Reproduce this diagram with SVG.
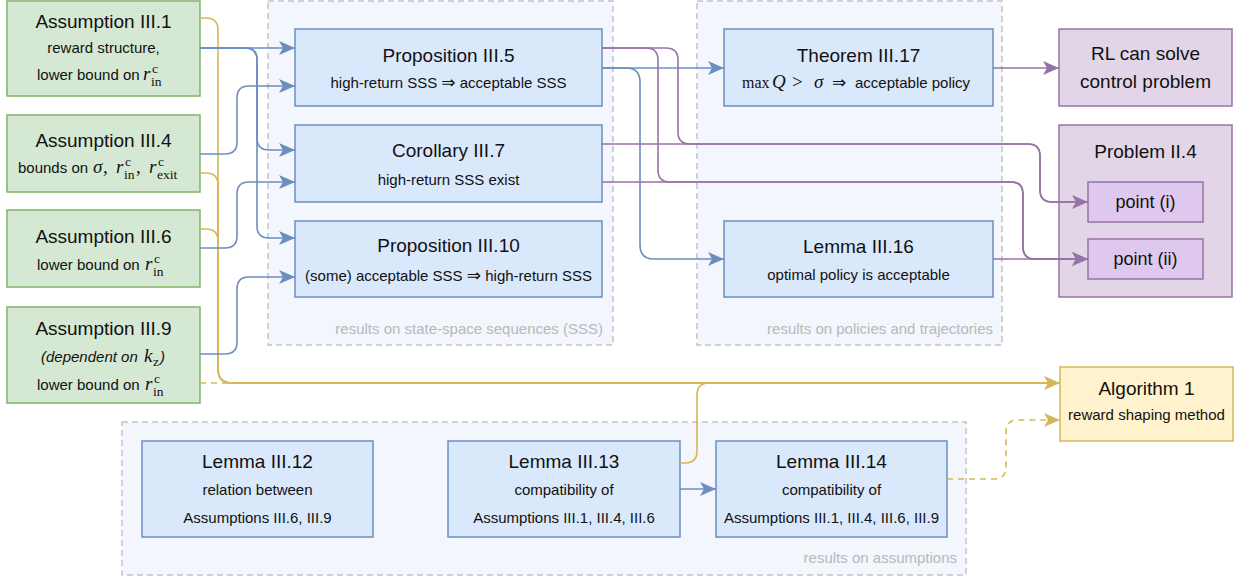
<svg xmlns="http://www.w3.org/2000/svg" width="1237" height="577" viewBox="0 0 1237 577">
<defs>
<style>
.grp{fill:#f3f6fd;stroke:#c4c4c4;stroke-width:1.5;stroke-dasharray:6 4}
.gl{font-family:"Liberation Sans",Arial,sans-serif;font-size:15px;fill:#b8b8b8;text-anchor:end}
.g{fill:#d5e8d4;stroke:#82b366;stroke-width:1.5}
.b{fill:#dae8fc;stroke:#6c8ebf;stroke-width:1.5}
.p{fill:#e1d5e7;stroke:#9673a6;stroke-width:1.5}
.pp{fill:#dfc8ee;stroke:#9673a6;stroke-width:1.5}
.y{fill:#fff2cc;stroke:#d6b656;stroke-width:1.5}
.t{font-family:"Liberation Sans",Arial,"DejaVu Sans",sans-serif;font-size:19px;fill:#111;text-anchor:middle}
.l{font-family:"Liberation Sans",Arial,"DejaVu Sans",sans-serif;font-size:15px;fill:#111}
.s{font-size:15px}
.it{font-style:italic}
.mi{font-family:"Liberation Serif","DejaVu Serif",serif;font-style:italic;font-size:19px;fill:#111}
.mr{font-family:"Liberation Serif","DejaVu Serif",serif;font-style:normal;font-size:19px;fill:#111}
.ss{font-family:"Liberation Serif","DejaVu Serif",serif;font-style:normal;font-size:13.5px;fill:#111}
.ar{font-family:"DejaVu Sans",sans-serif;font-style:normal;font-size:17px;fill:#111}
.cb{fill:none;stroke:#6c8ebf;stroke-width:1.6}
.cp{fill:none;stroke:#9673a6;stroke-width:1.6}
.cy{fill:none;stroke:#d6b656;stroke-width:1.6}
.dash{stroke-dasharray:6 5}
</style>
<marker id="ab" viewBox="0 0 16 14" refX="16" refY="7" markerWidth="16" markerHeight="14" markerUnits="userSpaceOnUse" orient="auto"><path d="M0,0 L16,7 L0,14 L4,7 z" fill="#6c8ebf"/></marker>
<marker id="ap" viewBox="0 0 16 14" refX="16" refY="7" markerWidth="16" markerHeight="14" markerUnits="userSpaceOnUse" orient="auto"><path d="M0,0 L16,7 L0,14 L4,7 z" fill="#9673a6"/></marker>
<marker id="ay" viewBox="0 0 16 14" refX="16" refY="7" markerWidth="16" markerHeight="14" markerUnits="userSpaceOnUse" orient="auto"><path d="M0,0 L16,7 L0,14 L4,7 z" fill="#d6b656"/></marker>
</defs>

<g id="group-sss">
<rect class="grp" x="268" y="1" width="345" height="344"/>
<text class="gl" x="603" y="334">results on state-space sequences (SSS)</text>
</g>
<g id="group-policies">
<rect class="grp" x="697" y="1" width="305" height="344"/>
<text class="gl" x="993" y="334">results on policies and trajectories</text>
</g>
<g id="group-assumptions">
<rect class="grp" x="122" y="422" width="844" height="153"/>
<text class="gl" x="957" y="563">results on assumptions</text>
</g>

<g id="assumption-iii-1">
<rect class="g" x="7" y="1" width="193" height="95"/>
<text class="t" x="103.5" y="28">Assumption III.1</text>
<text class="t s" x="103.5" y="53">reward structure,</text>
<text class="l" x="37" y="80">lower bound on</text>
<text class="mi" x="143" y="80">r</text>
<text class="ss" x="152" y="73">c</text>
<text class="ss" x="151" y="86">in</text>
</g>
<g id="assumption-iii-4">
<rect class="g" x="7" y="115" width="193" height="77"/>
<text class="t" x="103.5" y="147">Assumption III.4</text>
<text class="l" x="18" y="173">bounds on</text>
<text class="mi" x="93" y="173">σ</text>
<text class="mr" x="103" y="173">,</text>
<text class="mi" x="116" y="173">r</text>
<text class="ss" x="125" y="166">c</text>
<text class="ss" x="124" y="179">in</text>
<text class="mr" x="136" y="173">,</text>
<text class="mi" x="149" y="173">r</text>
<text class="ss" x="158" y="166">c</text>
<text class="ss" x="157" y="179">exit</text>
</g>
<g id="assumption-iii-6">
<rect class="g" x="7" y="210" width="193" height="77"/>
<text class="t" x="103.5" y="243">Assumption III.6</text>
<text class="l" x="37" y="270">lower bound on</text>
<text class="mi" x="145" y="270">r</text>
<text class="ss" x="154" y="263">c</text>
<text class="ss" x="153" y="276">in</text>
</g>
<g id="assumption-iii-9">
<rect class="g" x="7" y="307" width="193" height="96"/>
<text class="t" x="103.5" y="335">Assumption III.9</text>
<text class="l it" x="41" y="362">(dependent on</text>
<text class="mi" x="144" y="362">k</text>
<text class="ss" x="153" y="366">z</text>
<text class="l it" x="160" y="362">)</text>
<text class="l" x="37" y="390">lower bound on</text>
<text class="mi" x="145" y="390">r</text>
<text class="ss" x="154" y="383">c</text>
<text class="ss" x="153" y="396">in</text>
</g>

<g id="proposition-iii-5">
<rect class="b" x="295" y="29" width="307" height="77"/>
<text class="t" x="448.5" y="62">Proposition III.5</text>
<text class="t s" x="448.5" y="88">high-return SSS <tspan class="ar">⇒</tspan> acceptable SSS</text>
</g>
<g id="corollary-iii-7">
<rect class="b" x="295" y="125" width="307" height="77"/>
<text class="t" x="448.5" y="157">Corollary III.7</text>
<text class="t s" x="448.5" y="185">high-return SSS exist</text>
</g>
<g id="proposition-iii-10">
<rect class="b" x="295" y="221" width="307" height="76"/>
<text class="t" x="448.5" y="252">Proposition III.10</text>
<text class="t s" x="448.5" y="281">(some) acceptable SSS <tspan class="ar">⇒</tspan> high-return SSS</text>
</g>
<g id="theorem-iii-17">
<rect class="b" x="724" y="29" width="269" height="77"/>
<text class="t" x="858.5" y="62">Theorem III.17</text>
<text class="mr" x="742" y="88" style="font-size:16px">max</text>
<text class="mi" x="772" y="88">Q</text>
<text class="mr" x="792" y="88">&gt;</text>
<text class="mi" x="814" y="88">σ</text>
<text class="ar" x="832" y="88">⇒</text>
<text class="l" x="855" y="88">acceptable policy</text>
</g>
<g id="lemma-iii-16">
<rect class="b" x="724" y="221" width="269" height="76"/>
<text class="t" x="858.5" y="253">Lemma III.16</text>
<text class="t s" x="858.5" y="280">optimal policy is acceptable</text>
</g>

<g id="rl-can-solve">
<rect class="p" x="1059" y="29" width="173" height="77"/>
<text class="t" x="1145.5" y="60">RL can solve</text>
<text class="t" x="1145.5" y="88">control problem</text>
</g>
<g id="problem-ii-4">
<rect class="p" x="1059" y="125" width="173" height="172"/>
<text class="t" x="1145.5" y="158">Problem II.4</text>
</g>
<g id="point-i">
<rect class="pp" x="1088" y="182" width="115" height="40"/>
<text class="t" x="1145.5" y="208" style="font-size:18px">point (i)</text>
</g>
<g id="point-ii">
<rect class="pp" x="1088" y="239" width="115" height="40"/>
<text class="t" x="1145.5" y="265" style="font-size:18px">point (ii)</text>
</g>

<g id="algorithm-1">
<rect class="y" x="1060" y="367" width="173" height="74"/>
<text class="t" x="1146.5" y="395">Algorithm 1</text>
<text class="t s" x="1146.5" y="420">reward shaping method</text>
</g>

<g id="lemma-iii-12">
<rect class="b" x="142" y="441" width="231" height="96"/>
<text class="t" x="257.5" y="468">Lemma III.12</text>
<text class="t s" x="257.5" y="495">relation between</text>
<text class="t s" x="257.5" y="523">Assumptions III.6, III.9</text>
</g>
<g id="lemma-iii-13">
<rect class="b" x="448" y="441" width="232" height="96"/>
<text class="t" x="564" y="468">Lemma III.13</text>
<text class="t s" x="564" y="495">compatibility of</text>
<text class="t s" x="564" y="523">Assumptions III.1, III.4, III.6</text>
</g>
<g id="lemma-iii-14">
<rect class="b" x="716" y="441" width="231" height="96"/>
<text class="t" x="831.5" y="468">Lemma III.14</text>
<text class="t s" x="831.5" y="495">compatibility of</text>
<text class="t s" x="831.5" y="523">Assumptions III.1, III.4, III.6, III.9</text>
</g>

<g id="connectors">
<path class="cy" d="M200,18 H206 Q218,18 218,30 V369 Q218,383 232,383 H1060" marker-end="url(#ay)"/>
<path class="cy" d="M200,173 H206 Q218,173 218,185 V369 Q218,383 232,383 H1060"/>
<path class="cy" d="M200,229 H206 Q218,229 218,241 V369 Q218,383 232,383 H1060"/>
<path class="cy dash" d="M200,383 H1060"/>
<path class="cy" d="M680,463 H685 Q697,463 697,451 V395 Q697,383 709,383 H1060"/>
<path class="cy dash" d="M947,479 H994 Q1006,479 1006,467 V432 Q1006,420 1018,420 H1060" marker-end="url(#ay)"/>

<path class="cb" d="M200,48 H295" marker-end="url(#ab)"/>
<path class="cb" d="M200,48 H245 Q257,48 257,60 V138 Q257,150 269,150 H295" marker-end="url(#ab)"/>
<path class="cb" d="M200,48 H245 Q257,48 257,60 V226 Q257,238 269,238 H295" marker-end="url(#ab)"/>
<path class="cb" d="M200,154 H225 Q237,154 237,142 V98 Q237,86 249,86 H295" marker-end="url(#ab)"/>
<path class="cb" d="M200,248 H225 Q237,248 237,236 V194 Q237,182 249,182 H295" marker-end="url(#ab)"/>
<path class="cb" d="M200,354 H225 Q237,354 237,342 V289 Q237,277 249,277 H295" marker-end="url(#ab)"/>
<path class="cb" d="M602,68 H724" marker-end="url(#ab)"/>
<path class="cb" d="M602,68 H626 Q640,68 640,82 V245 Q640,259 654,259 H724" marker-end="url(#ab)"/>
<path class="cb" d="M680,489 H716" marker-end="url(#ab)"/>

<path class="cp" d="M602,48 H666 Q678,48 678,60 V132 Q678,144 690,144 H1028 Q1040,144 1040,156 V190 Q1040,202 1052,202 H1088" marker-end="url(#ap)"/>
<path class="cp" d="M602,48 H646 Q658,48 658,60 V170 Q658,182 670,182 H1011 Q1023,182 1023,194 V247 Q1023,259 1035,259 H1088" marker-end="url(#ap)"/>
<path class="cp" d="M602,144 H1028 Q1040,144 1040,156 V190 Q1040,202 1052,202 H1088"/>
<path class="cp" d="M602,182 H1011 Q1023,182 1023,194 V247 Q1023,259 1035,259 H1088"/>
<path class="cp" d="M993,259 H1088" marker-end="url(#ap)"/>
<path class="cp" d="M993,68 H1059" marker-end="url(#ap)"/>
</g>
</svg>
